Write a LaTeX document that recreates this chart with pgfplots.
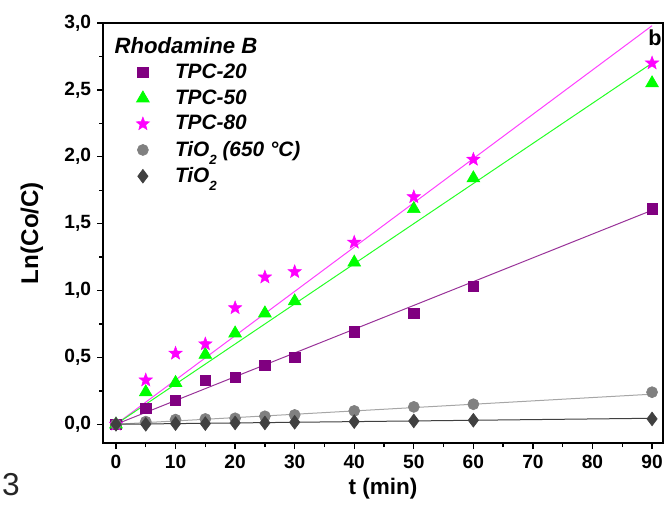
\documentclass[border=0pt]{standalone}
\usepackage{fontspec}
\setmainfont{Liberation Sans}
\usepackage{pgfplots}
\pgfplotsset{compat=1.18}
\definecolor{cpur}{HTML}{800080}
\definecolor{cgrn}{HTML}{00FF00}
\definecolor{cmag}{HTML}{FF00FF}
\definecolor{cgry}{HTML}{808080}
\definecolor{cdrk}{HTML}{404040}
\newcommand{\subtwo}{\raisebox{-0.75ex}{\fontsize{8}{8}\selectfont 2}}
\pgfdeclareplotmark{fstar}{%
  \pgfpathmoveto{\pgfpointpolar{90}{\pgfplotmarksize}}%
  \pgfpathlineto{\pgfpointpolar{126}{0.42\pgfplotmarksize}}%
  \pgfpathlineto{\pgfpointpolar{162}{\pgfplotmarksize}}%
  \pgfpathlineto{\pgfpointpolar{198}{0.42\pgfplotmarksize}}%
  \pgfpathlineto{\pgfpointpolar{234}{\pgfplotmarksize}}%
  \pgfpathlineto{\pgfpointpolar{270}{0.42\pgfplotmarksize}}%
  \pgfpathlineto{\pgfpointpolar{306}{\pgfplotmarksize}}%
  \pgfpathlineto{\pgfpointpolar{342}{0.42\pgfplotmarksize}}%
  \pgfpathlineto{\pgfpointpolar{18}{\pgfplotmarksize}}%
  \pgfpathlineto{\pgfpointpolar{54}{0.42\pgfplotmarksize}}%
  \pgfpathclose
  \pgfusepathqfillstroke}
\begin{document}
\begin{tikzpicture}
\useasboundingbox (0,0) rectangle (400.2pt,-303pt);
\node[anchor=west,inner sep=0pt,text=black!85] at (1pt,-291pt) {\fontsize{19}{21}\selectfont 3};
\begin{axis}[
  at={(61.8pt,-265.8pt)}, anchor=south west,
  scale only axis, width=336pt, height=252pt,
  xmin=-2.18, xmax=91.84, ymin=-0.14, ymax=3.0,
  xtick={0,10,...,90}, minor xtick={5,15,...,85},
  ytick={0,0.5,...,3.0}, minor ytick={0.25,0.75,...,2.75},
  tick align=outside, xtick pos=left, ytick pos=left,
  major tick length=3.6pt, minor tick length=2.4pt,
  every tick/.style={black, line width=0.8pt},
  axis line style={line width=0.9pt},
  /pgf/number format/assume math mode=true,
  yticklabel style={/pgf/number format/.cd, use comma, fixed, fixed zerofill, precision=1},
  ticklabel style={font=\bfseries\fontsize{11.5}{13}\selectfont},
  xlabel={\bfseries\fontsize{13.5}{15}\selectfont t (min)},
  ylabel={\bfseries\fontsize{14.5}{16}\selectfont Ln(Co/C)},
  xlabel style={yshift=1pt},
  ylabel style={yshift=6pt},
  legend style={at={(rel axis cs:0.0357,0.919)}, anchor=north west, draw=none, fill=none,
    font=\bfseries\itshape\fontsize{12.5}{14.5}\selectfont, row sep=1.2pt},
  legend cell align=left,
  legend image code/.code={\path (0,0) (0.9cm,0); \draw[#1] plot coordinates {(0.3cm,0cm)};},
]
% fitted lines
\addplot[forget plot, color=cmag!75, line width=0.6pt] coordinates {(0,0) (90,2.98)};
\addplot[forget plot, color=cgrn!85!white, line width=0.6pt] coordinates {(0,0) (90,2.70)};
\addplot[forget plot, color=cpur!80!white, line width=0.6pt] coordinates {(0,0) (90,1.60)};
\addplot[forget plot, color=black!35, line width=0.6pt] coordinates {(0,0) (90,0.225)};
\addplot[forget plot, color=cdrk, line width=0.6pt] coordinates {(0,0) (90,0.045)};
% data
\addplot[only marks, mark=square*, mark size=3.1pt, mark options={fill=cpur, draw=cpur}] coordinates {
(0,0) (5,0.12) (10,0.18) (15,0.33) (20,0.35) (25,0.44) (30,0.50) (40,0.69) (50,0.83) (60,1.03) (90,1.61)};
\addlegendentry{TPC-20}
\addplot[only marks, mark=triangle*, mark size=4.4pt, mark options={fill=cgrn, draw=cgrn}] coordinates {
(0,0) (5,0.24) (10,0.31) (15,0.52) (20,0.68) (25,0.83) (30,0.92) (40,1.21) (50,1.61) (60,1.84) (90,2.55)};
\addlegendentry{TPC-50}
\addplot[only marks, mark=fstar, mark size=4.2pt, mark options={fill=cmag, draw=cmag, line width=0.3pt}] coordinates {
(0,0) (5,0.33) (10,0.53) (15,0.60) (20,0.87) (25,1.10) (30,1.14) (40,1.36) (50,1.70) (60,1.98) (90,2.70)};
\addlegendentry{TPC-80}
\addplot[only marks, mark=*, mark size=3.3pt, mark options={fill=cgry, draw=cgry}] coordinates {
(0,0) (5,0.02) (10,0.035) (15,0.04) (20,0.045) (25,0.06) (30,0.07) (40,0.10) (50,0.13) (60,0.15) (90,0.24)};
\addlegendentry{TiO\subtwo\ (650 °C)}
\addplot[only marks, mark=diamond*, mark size=4.1pt, mark options={fill=cdrk, draw=cdrk}] coordinates {
(0,0) (5,0.0) (10,0.005) (15,0.005) (20,0.01) (25,0.01) (30,0.015) (40,0.02) (50,0.025) (60,0.03) (90,0.04)};
\addlegendentry{TiO\subtwo}
\node[anchor=west, inner sep=0pt] at (axis cs:-0.3,2.83) {\bfseries\itshape\fontsize{13.3}{15}\selectfont Rhodamine B};
\node[anchor=north east, inner sep=0pt] at (rel axis cs:0.998,0.985) {\bfseries\fontsize{13}{14}\selectfont b};
\end{axis}
\end{tikzpicture}
\end{document}
